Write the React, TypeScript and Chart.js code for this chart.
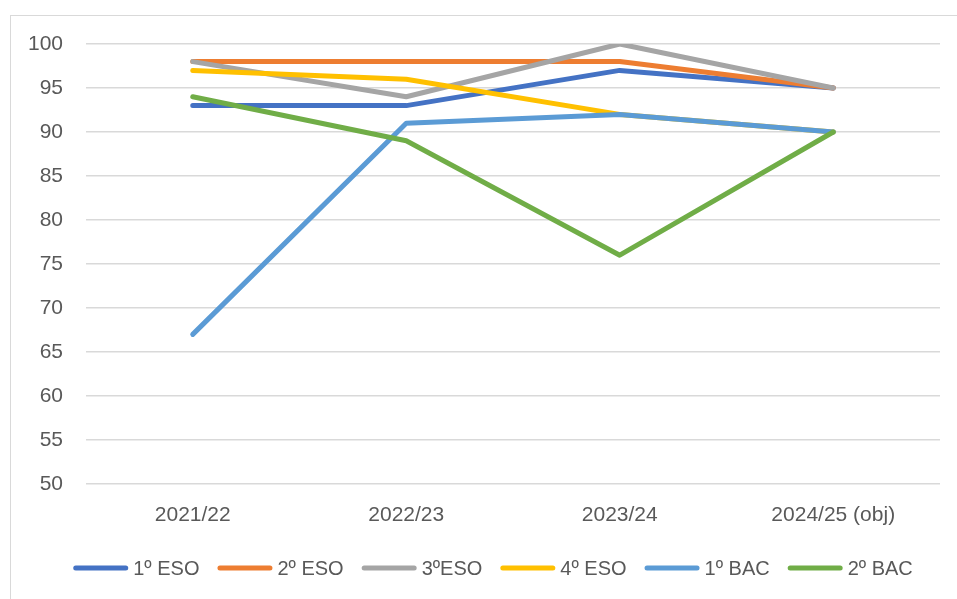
import React, { useEffect, useRef } from "react";
import { Chart, registerables } from "chart.js";

Chart.register(...registerables);

const categories = ["2021/22", "2022/23", "2023/24", "2024/25 (obj)"];
const seriesNames = ["1º ESO", "2º ESO", "3ºESO", "4º ESO", "1º BAC", "2º BAC"];
const eso1 = [93, 93, 97, 95];
const eso2 = [98, 98, 98, 95];
const eso3 = [98, 94, 100, 95];
const eso4 = [97, 96, 92, 90];
const bac1 = [67, 91, 92, 90];
const bac2 = [94, 89, 76, 90];
const seriesColors = ["#4472C4", "#ED7D31", "#A5A5A5", "#FFC000", "#5B9BD5", "#70AD47"];
const yMin = 50;
const yMax = 100;
const yStep = 5;

const FONT = "'Liberation Sans', Arial, sans-serif";
const TEXT = "#595959";

const legendPlugin = {
  id: "customLegend",
  afterDraw(chart: any) {
    const ctx = chart.ctx;
    const ds = chart.data.datasets;
    ctx.save();
    ctx.font = `20px ${FONT}`;
    const markerW = 55;
    const textGap = 5;
    const itemGap = 18;
    const widths = ds.map((d: any) => markerW + textGap + ctx.measureText(d.label).width);
    const total = widths.reduce((a: number, b: number) => a + b, 0) + itemGap * (ds.length - 1);
    let x = 493 - total / 2;
    const y = 568;
    ds.forEach((d: any, i: number) => {
      ctx.strokeStyle = d.borderColor;
      ctx.lineWidth = 5;
      ctx.lineCap = "round";
      ctx.beginPath();
      ctx.moveTo(x + 2.5, y);
      ctx.lineTo(x + markerW - 2.5, y);
      ctx.stroke();
      ctx.fillStyle = TEXT;
      ctx.textAlign = "left";
      ctx.textBaseline = "middle";
      ctx.fillText(d.label, x + markerW + textGap, y + 1);
      x += widths[i] + itemGap;
    });
    ctx.restore();
  },
};

export default function App() {
  const ref = useRef<HTMLCanvasElement>(null);
  useEffect(() => {
    if (!ref.current) return;
    const all = [eso1, eso2, eso3, eso4, bac1, bac2];
    const chart = new Chart(ref.current, {
      type: "line",
      data: {
        labels: categories,
        datasets: all.map((vals, i) => ({
          label: seriesNames[i],
          data: vals,
          borderColor: seriesColors[i],
          backgroundColor: seriesColors[i],
          borderWidth: 5,
          pointRadius: 0,
          borderCapStyle: "round",
          borderJoinStyle: "round",
          tension: 0,
          order: all.length - i,
        })),
      },
      options: {
        animation: false,
        responsive: false,
        maintainAspectRatio: false,
        layout: { padding: { left: 0, top: 44, right: 17, bottom: 0 } },
        plugins: { legend: { display: false }, tooltip: { enabled: false } },
        scales: {
          x: {
            type: "category",
            offset: true,
            grid: { display: false, drawTicks: false },
            border: { display: false },
            ticks: { color: TEXT, font: { family: FONT, size: 21 }, padding: 19, maxRotation: 0 },
            afterFit: (s: any) => {
              s.height = 115;
            },
          },
          y: {
            min: yMin,
            max: yMax,
            grid: { color: "#D9D9D9", lineWidth: 1.5, drawTicks: false },
            border: { display: false },
            ticks: { stepSize: yStep, color: TEXT, font: { family: FONT, size: 21 }, padding: 23 },
            afterFit: (s: any) => {
              s.width = 86;
            },
          },
        },
      },
      plugins: [legendPlugin],
    });
    return () => chart.destroy();
  }, []);
  return (
    <div style={{ position: "fixed", left: 0, top: 0, width: 957, height: 599, background: "#fff", overflow: "hidden" }}>
      <div
        style={{
          position: "absolute",
          left: 10,
          top: 15,
          width: 1000,
          height: 700,
          border: "1px solid #D9D9D9",
          boxSizing: "border-box",
        }}
      />
      <canvas ref={ref} width={957} height={599} style={{ position: "absolute", left: 0, top: 0 }} />
    </div>
  );
}
